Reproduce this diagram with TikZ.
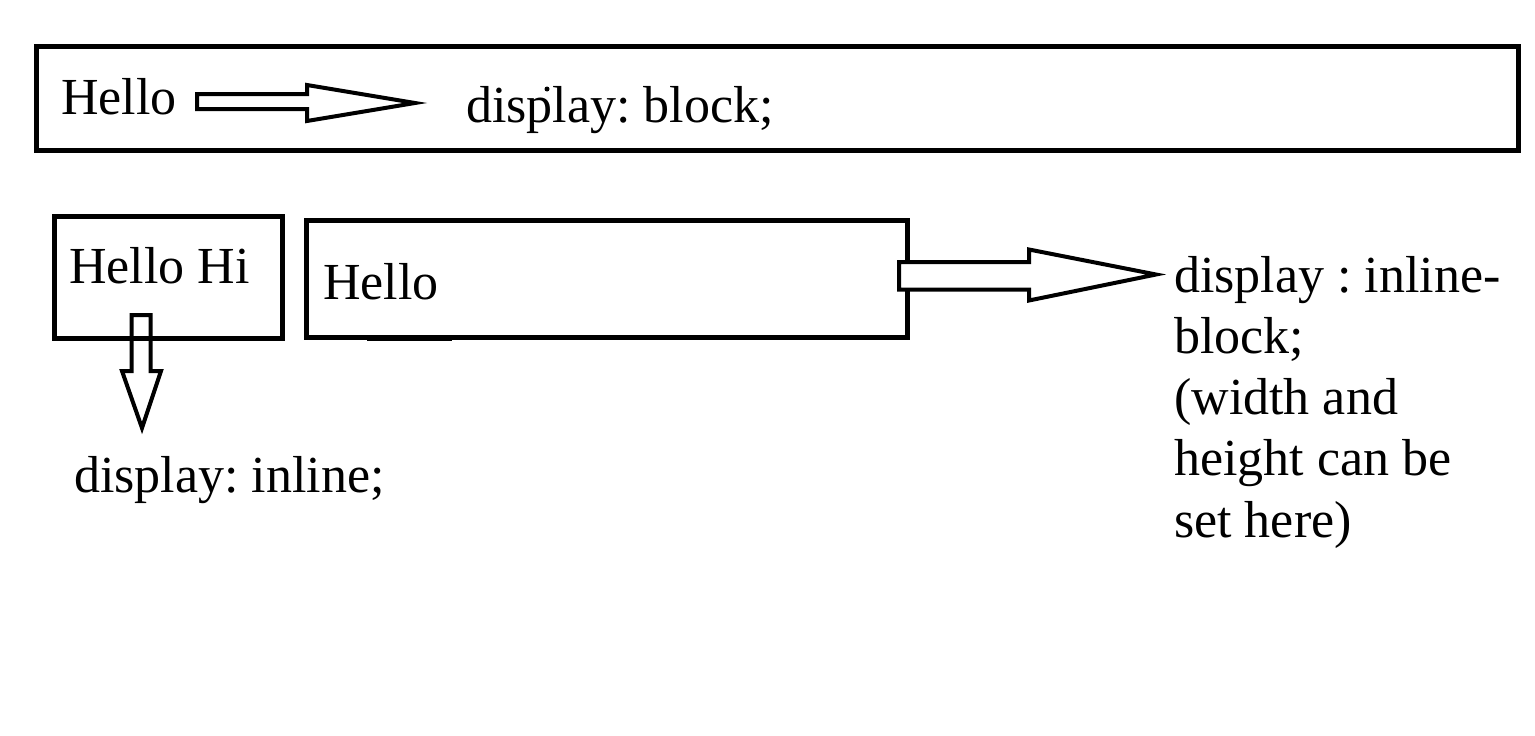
\documentclass[tikz,border=0pt]{standalone}
\usepackage{fontspec}
\setmainfont{Liberation Serif}
\frenchspacing
\begin{document}
\begin{tikzpicture}[x=1pt,y=-1pt,
  box/.style={draw=black, line width=5pt, inner sep=0pt, minimum width=#1},
  fatarrow/.style={draw=black, line width=4pt, line join=miter, fill=white},
  lbl/.style={inner sep=0pt, anchor=base west, font=\fontsize{52}{61.2}\selectfont\frenchspacing}]
\useasboundingbox (0,0) rectangle (1535,736);
\fill[white] (0,0) rectangle (1535,736);
% boxes
\node[box=1482pt, minimum height=104pt] (blockbox) at (777.5,98.5) {};
\node[box=228.5pt, minimum height=121.5pt] (inlinebox) at (168.25,277.25) {};
\node[box=600.5pt, minimum height=116.5pt] (ibbox) at (606.75,278.75) {};
% small line under box 3
\draw[line width=3pt] (367,339.5) coordinate (ul1) -- (452,339.5) coordinate (ul2);
% texts
\node[lbl] (hello1) at (61,114) {Hello};
\node[lbl] (blocktxt) at (466,122) {display: block;};
\node[lbl] (hellohi) at (69,283) {Hello Hi};
\node[lbl] (hello3) at (323,299) {Hello};
\node[lbl] (inlinetxt) at (74,492) {display: inline;};
\node[lbl, align=left] (ibtxt) at (1174,537) {display : inline-\\block;\\(width and\\height can be\\set here)};
% stray dot
\fill (547,89) circle (2.5pt);
% arrows
\draw[fatarrow] (197,94) -- (307,94) -- (307,85) -- (415,103) -- (307,121) -- (307,109) -- (197,109) -- cycle;
\draw[fatarrow] (899,262) -- (1029,262) -- (1029,249.5) -- (1156,274.5) -- (1029,300.5) -- (1029,289.5) -- (899,289.5) -- cycle;
\draw[fatarrow, fill=none] (131.5,371) -- (131.5,315) -- (150.5,315) -- (150.5,371) -- (161,371) -- (142,428) -- (122,371) -- cycle;
\end{tikzpicture}
\end{document}
